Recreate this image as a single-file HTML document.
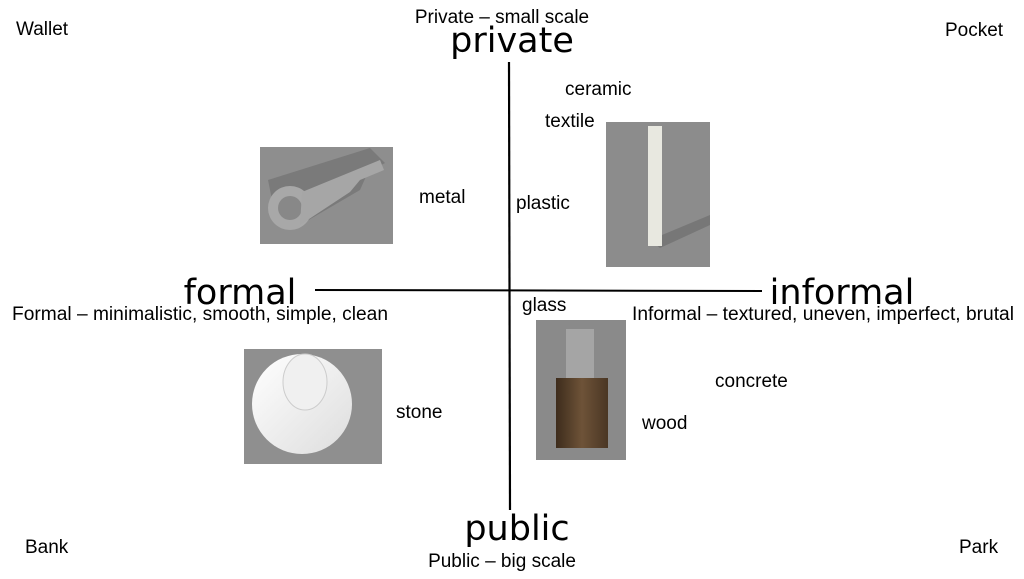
<!DOCTYPE html>
<html><head><meta charset="utf-8"><style>
body{margin:0;background:#fff;width:1024px;height:574px;overflow:hidden;}
svg text{font-family:"Liberation Sans",sans-serif;fill:#000;}
.big{font-family:"DejaVu Sans","Liberation Sans",sans-serif !important;font-size:35px;}
.s{font-size:19px;}
</style></head><body>
<svg width="1024" height="574" viewBox="0 0 1024 574">
<defs>
<linearGradient id="gs" x1="0" y1="0" x2="1" y2="1"><stop offset="0" stop-color="#fff"/><stop offset="1" stop-color="#ddd"/></linearGradient>
<linearGradient id="gw" x1="0" y1="0" x2="1" y2="0"><stop offset="0" stop-color="#3d2c1c"/><stop offset="0.5" stop-color="#6e5338"/><stop offset="1" stop-color="#4a3624"/></linearGradient>
</defs>
<line x1="509" y1="62" x2="510" y2="510" stroke="#000" stroke-width="2.2"/>
<line x1="315" y1="290" x2="762" y2="291" stroke="#000" stroke-width="2"/>
<rect x="260" y="147" width="133" height="97" fill="#8e8e8e"/>
<path d="M268 180 L370 148 L385 163 L368 172 L360 190 L300 225 L275 215 Z" fill="#7a7a7a"/>
<circle cx="290" cy="208" r="22" fill="#a8a8a8"/>
<circle cx="290" cy="208" r="12" fill="#888"/>
<path d="M302 192 L380 160 L384 170 L360 180 L350 192 L300 225 Z" fill="#a6a6a6"/>
<rect x="606" y="122" width="104" height="145" fill="#8c8c8c"/>
<polygon points="650,240 710,215 710,225 660,248" fill="#777"/>
<rect x="648" y="126" width="14" height="120" fill="#e8e8e0"/>
<rect x="244" y="349" width="138" height="115" fill="#8f8f8f"/>
<circle cx="302" cy="404" r="50" fill="url(#gs)"/>
<ellipse cx="305" cy="382" rx="22" ry="28" fill="#f0f0f0" stroke="#ccc"/>
<rect x="536" y="320" width="90" height="140" fill="#8a8a8a"/>
<rect x="566" y="329" width="28" height="100" fill="#a5a5a5"/>
<rect x="556" y="378" width="52" height="70" fill="url(#gw)"/>
<text class="big" x="512" y="52" text-anchor="middle">private</text>
<text class="big" x="517" y="540" text-anchor="middle">public</text>
<text class="big" x="240" y="304" text-anchor="middle">formal</text>
<text class="big" x="842" y="304" text-anchor="middle">informal</text>
<text class="s" x="502" y="23" text-anchor="middle">Private – small scale</text>
<text class="s" x="502" y="567" text-anchor="middle">Public – big scale</text>
<text class="s" x="12" y="320" textLength="376" lengthAdjust="spacingAndGlyphs">Formal – minimalistic, smooth, simple, clean</text>
<text class="s" x="632" y="320" textLength="382" lengthAdjust="spacingAndGlyphs">Informal – textured, uneven, imperfect, brutal</text>
<text class="s" x="16" y="35">Wallet</text>
<text class="s" x="945" y="36">Pocket</text>
<text class="s" x="25" y="553">Bank</text>
<text class="s" x="959" y="553">Park</text>
<text class="s" x="565" y="95">ceramic</text>
<text class="s" x="545" y="127">textile</text>
<text class="s" x="419" y="203">metal</text>
<text class="s" x="516" y="209">plastic</text>
<text class="s" x="522" y="311">glass</text>
<text class="s" x="715" y="387">concrete</text>
<text class="s" x="396" y="418">stone</text>
<text class="s" x="642" y="429">wood</text>
</svg>
</body></html>
